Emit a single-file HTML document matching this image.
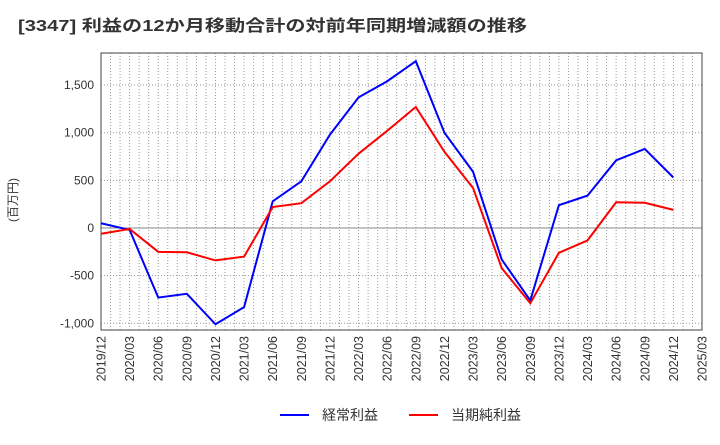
<!DOCTYPE html>
<html><head><meta charset="utf-8"><style>
body{margin:0;background:#fff;font-family:"Liberation Sans","Noto Sans CJK JP",sans-serif;}
</style></head><body>
<svg id="c" width="720" height="440" xmlns="http://www.w3.org/2000/svg" style="font-family:'Liberation Sans','Noto Sans CJK JP',sans-serif"></svg>
<script>
const categories=["2019/12","2020/03","2020/06","2020/09","2020/12","2021/03","2021/06","2021/09","2021/12","2022/03","2022/06","2022/09","2022/12","2023/03","2023/06","2023/09","2023/12","2024/03","2024/06","2024/09","2024/12"];
const xTickLabels=["2019/12","2020/03","2020/06","2020/09","2020/12","2021/03","2021/06","2021/09","2021/12","2022/03","2022/06","2022/09","2022/12","2023/03","2023/06","2023/09","2023/12","2024/03","2024/06","2024/09","2024/12","2025/03"];
const ordinaryProfit=[50,-20,-730,-690,-1010,-830,280,490,980,1370,1540,1750,1000,590,-330,-760,240,340,710,830,530];
const netProfit=[-60,-10,-250,-255,-340,-300,220,260,490,780,1020,1270,800,420,-420,-790,-260,-130,270,265,190];
const yTicks=[-1000,-500,0,500,1000,1500];
const yTickLabels=["-1,000","-500","0","500","1,000","1,500"];
const svg=document.getElementById('c');const NS='http://www.w3.org/2000/svg';
const L=101,R=702,T=53,B=330;
const x=i=>L+(R-L)*i/(xTickLabels.length-1);
const y=v=>228-v*0.0953;
function mk(t,a,p){const e=document.createElementNS(NS,t);for(const k in a)e.setAttribute(k,a[k]);(p||svg).appendChild(e);return e;}
const title=mk('text',{x:18,y:31,'font-size':16,'font-weight':'bold',fill:'#333',textLength:509,lengthAdjust:'spacingAndGlyphs'});title.textContent='[3347]  利益の12か月移動合計の対前年同期増減額の推移';


const grid=mk('g',{});


for(let m=1;m<(xTickLabels.length-1)*3;m++){const gx=L+(R-L)*m/((xTickLabels.length-1)*3);mk('line',{x1:gx,x2:gx,y1:T,y2:B,stroke:'#999','stroke-dasharray':'1,2','stroke-width':1},grid);}
yTicks.forEach((v,i)=>{
 mk('line',{x1:L,x2:R,y1:y(v),y2:y(v),stroke:v===0?'#888':'#999','stroke-dasharray':v===0?'':'1,2'},grid);
 const t=mk('text',{x:L-7,y:y(v)+4,'text-anchor':'end','font-size':12,fill:'#333'});t.textContent=yTickLabels[i];
 
 
});
xTickLabels.forEach((s,i)=>{
 const t=mk('text',{x:0,y:0,'text-anchor':'end','font-size':12.5,fill:'#333',transform:`translate(${x(i)+4.5},${B+6}) rotate(-90)`});t.textContent=s;
 
 
});
const frame=mk('rect',{x:L,y:T,width:R-L,height:B-T,fill:'none',stroke:'#444'});


const yt=mk('text',{x:0,y:0,'font-size':12,fill:'#333','text-anchor':'middle',transform:'translate(17,200) rotate(-90)'});yt.textContent='(百万円)';


function line(d,col,name){const p=mk('polyline',{points:d.map((v,i)=>x(i)+','+y(v)).join(' '),fill:'none',stroke:col,'stroke-width':2});

}
line(ordinaryProfit,'#0000ff','ordinary-profit-line');
line(netProfit,'#ff0000','net-profit-line');
function leg(x0,col,label,name){const g=mk('g',{});


mk('line',{x1:x0,x2:x0+29,y1:415,y2:415,stroke:col,'stroke-width':2},g);const t=mk('text',{x:x0+42,y:420,'font-size':14,fill:'#333'},g);t.textContent=label;}
leg(280,'#0000ff','経常利益','legend-ordinary-profit');
leg(409,'#ff0000','当期純利益','legend-net-profit');
</script>
</body></html>
